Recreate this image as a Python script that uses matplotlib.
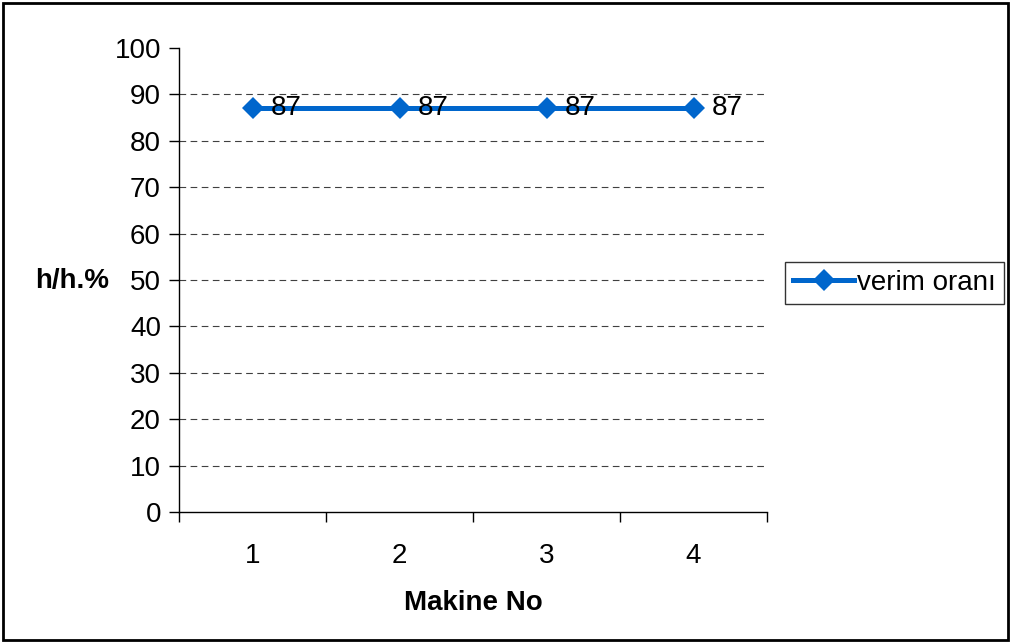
import matplotlib
matplotlib.use("Agg")
import matplotlib.pyplot as plt
from matplotlib.patches import Rectangle
from matplotlib.ticker import FixedLocator, NullFormatter

machines = [1, 2, 3, 4]
efficiency = [87, 87, 87, 87]
series_name = "verim oranı"
y_ticks = list(range(0, 101, 10))

plt.rcParams["font.family"] = ["Liberation Sans", "DejaVu Sans"]

W, H, DPI = 1011, 643, 100
fig = plt.figure(figsize=(W / DPI, H / DPI), dpi=DPI)

# plot area in pixel coordinates
left, right, top, bottom = 179, 767, 48, 512
ax = fig.add_axes([left / W, 1 - bottom / H, (right - left) / W, (bottom - top) / H])

blue = "#0066CC"
line, = ax.plot(machines, efficiency, color=blue, lw=3.6, marker="D", ms=11,
                markeredgewidth=0, label=series_name, zorder=3)
for x, v in zip(machines, efficiency):
    ax.annotate(str(v), (x, v), xytext=(13, 0), textcoords="offset points",
                ha="left", va="center", fontsize=20, zorder=4)

ax.set_xlim(0.5, 4.5)
ax.set_ylim(0, 100)
ax.set_yticks(y_ticks)
for y in y_ticks[1:-1]:
    ax.axhline(y, color="#404040", lw=0.8, ls=(0, (6, 4)), zorder=1)

ax.set_xticks(machines)
ax.xaxis.set_minor_locator(FixedLocator([0.5, 1.5, 2.5, 3.5, 4.5]))
ax.xaxis.set_minor_formatter(NullFormatter())
ax.tick_params(axis="x", which="major", length=0, pad=22, labelsize=20)
ax.tick_params(axis="x", which="minor", length=7, width=1, direction="out")
ax.tick_params(axis="y", length=7, width=1, direction="out", pad=6, labelsize=20)

for side in ("top", "right"):
    ax.spines[side].set_visible(False)
for side in ("left", "bottom"):
    ax.spines[side].set_color("black")
    ax.spines[side].set_linewidth(1)

fig.text(473 / W, 1 - 603 / H, "Makine No", ha="center", va="center",
         fontsize=20, fontweight="bold")
fig.text(72 / W, 1 - 281 / H, "h/h.%", ha="center", va="center",
         fontsize=20, fontweight="bold")

leg = fig.legend(handles=[line], loc="center left",
                 bbox_to_anchor=(785 / W, 1 - 283 / H), fontsize=20,
                 frameon=True, fancybox=False, edgecolor="black",
                 borderpad=0.3, handlelength=2.2, handletextpad=0.1,
                 borderaxespad=0)
leg.get_frame().set_linewidth(1)

# outer chart border
fig.patches.append(Rectangle((3 / W, 3 / H), 1 - 6 / W, 1 - 6 / H,
                             transform=fig.transFigure, fill=False,
                             edgecolor="black", lw=2))

fig.savefig("out.png", dpi=DPI)
